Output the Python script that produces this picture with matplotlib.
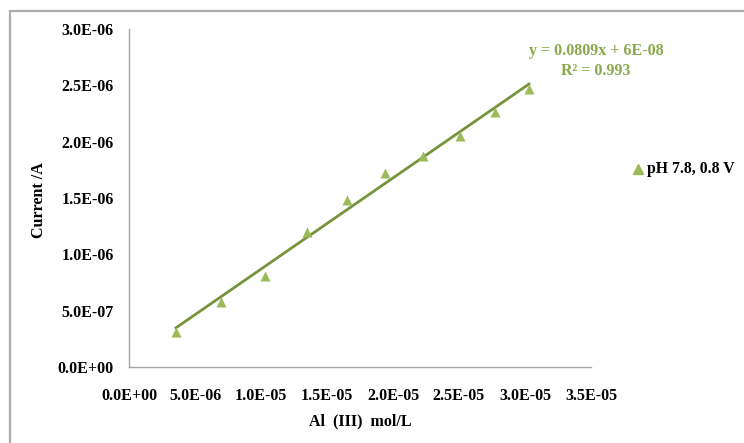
import matplotlib
matplotlib.use("Agg")
import matplotlib.pyplot as plt
from matplotlib.patches import Rectangle
from matplotlib.ticker import FuncFormatter
import numpy as np

# Al(III) concentration (mol/L) and measured current (A)
conc = [3.56e-6, 6.97e-6, 1.03e-5, 1.346e-5, 1.65e-5, 1.94e-5, 2.23e-5, 2.505e-5, 2.775e-5, 3.03e-5]
current = [0.31e-6, 0.58e-6, 0.81e-6, 1.20e-6, 1.48e-6, 1.72e-6, 1.875e-6, 2.05e-6, 2.26e-6, 2.47e-6]

# Linear trendline coefficients
slope = 0.0809
intercept = 6e-8
r_squared = 0.993

series_label = "pH 7.8, 0.8 V"
x_label = "Al  (III)  mol/L"
y_label = "Current /A"

plt.rcParams['font.family'] = ['Liberation Serif', 'DejaVu Serif']
plt.rcParams['font.weight'] = 'bold'

W, H = 744, 443
fig = plt.figure(figsize=(W / 100, H / 100), dpi=100)
fig.patch.set_facecolor('white')

# chart border
fig.add_artist(Rectangle((9.5 / W, -0.1), 2.0, 1.1 - 11.5 / H, transform=fig.transFigure,
                         fill=False, edgecolor='#ADADAD', linewidth=1.6))

left, right, top, bottom = 129, 591, 29, 367
ax = fig.add_axes([left / W, 1 - bottom / H, (right - left) / W, (bottom - top) / H])

marker_color = '#9BBB59'
line_color = '#77933C'

xs = np.array([conc[0], conc[-1]])
ax.plot(xs, slope * xs + intercept, color=line_color, linewidth=2.0, zorder=2)
ax.scatter(conc, current, marker='^', s=52, color=marker_color, zorder=3, linewidths=0)

ax.set_xlim(0, 3.5e-5)
ax.set_ylim(0, 3.0e-6)
ax.set_xticks(np.arange(0, 3.5e-5 + 1e-12, 5e-6))
ax.set_yticks(np.arange(0, 3.0e-6 + 1e-15, 5e-7))


def sci(v, pos):
    if v == 0:
        return "0.0E+00"
    return f"{v:.1E}"


ax.xaxis.set_major_formatter(FuncFormatter(sci))
ax.yaxis.set_major_formatter(FuncFormatter(sci))
ax.tick_params(length=0, labelsize=11.5, colors='black')
ax.tick_params(axis='x', pad=15)
ax.tick_params(axis='y', pad=11)
for lab in ax.get_xticklabels() + ax.get_yticklabels():
    lab.set_fontweight('bold')

for side in ['top', 'right']:
    ax.spines[side].set_visible(False)
for side in ['left', 'bottom']:
    ax.spines[side].set_color('#A6A6A6')
    ax.spines[side].set_linewidth(1.0)

fig.text(360 / W, 1 - 421 / H, x_label, ha='center', va='center', fontsize=11.5, fontweight='bold')
fig.text(39 / W, 1 - 200 / H, y_label, ha='center', va='center', rotation=90, fontsize=11.5, fontweight='bold')

eq_color = '#8AA84B'
fig.text(596 / W, 1 - 51 / H, f"y = {slope}x + 6E-08", ha='center', va='center',
         fontsize=11.5, fontweight='bold', color=eq_color)
fig.text(596 / W, 1 - 71 / H, f"R² = {r_squared}", ha='center', va='center',
         fontsize=11.5, fontweight='bold', color=eq_color)

# legend
fig.add_artist(plt.Line2D([638 / W], [1 - 169 / H], marker='^', markersize=7,
                          color=marker_color, linestyle='none', transform=fig.transFigure))
fig.text(647 / W, 1 - 169 / H, series_label, ha='left', va='center', fontsize=11.3, fontweight='bold')

fig.savefig("out.png", dpi=100)
